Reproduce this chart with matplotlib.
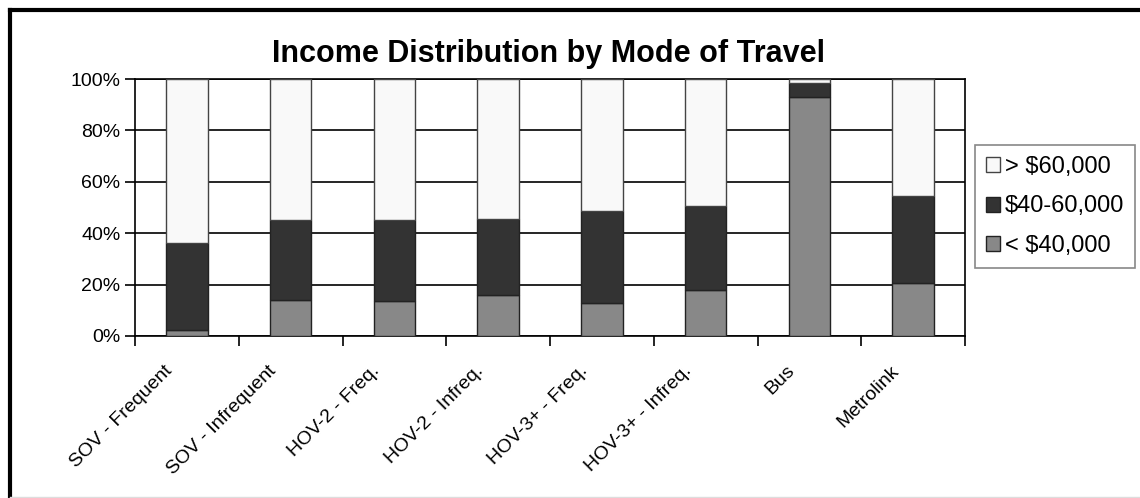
import matplotlib.pyplot as plt
import matplotlib.transforms as mtransforms
from matplotlib.lines import Line2D
import numpy as np

plt.rcParams["font.family"] = ["Liberation Sans", "DejaVu Sans"]

modes = ["SOV - Frequent", "SOV - Infrequent", "HOV-2 - Freq.", "HOV-2 - Infreq.",
         "HOV-3+ - Freq.", "HOV-3+ - Infreq.", "Bus", "Metrolink"]
under_40k = [2.5, 14, 13.5, 16, 13, 18, 93, 20.5]
from_40_to_60k = [33.5, 31, 31.5, 29.5, 35.5, 32.5, 5.3, 34]
over_60k = [64, 55, 55, 54.5, 51.5, 49.5, 1.7, 45.5]

fig = plt.figure(figsize=(11.4, 4.98), dpi=100)
ax = fig.add_axes([135 / 1140, 162 / 498, 830 / 1140, 257 / 498])

x = np.arange(len(modes))
w = 0.4
low = np.array(under_40k)
mid = np.array(from_40_to_60k)
ax.bar(x, under_40k, w, color="#888888", edgecolor="#222222", lw=1, zorder=3,
       label="< $40,000")
ax.bar(x, from_40_to_60k, w, bottom=low, color="#333333", edgecolor="#222222", lw=1,
       zorder=3, label="$40-60,000")
ax.bar(x, over_60k, w, bottom=low + mid, color="#f9f9f9", edgecolor="#444444", lw=1,
       zorder=3, label="> $60,000")

ax.set_xlim(-0.5, len(modes) - 0.5)
ax.set_ylim(0, 100)
ax.set_yticks(range(0, 101, 20))
ax.set_yticklabels([f"{v}%" for v in range(0, 101, 20)], fontsize=14)
ax.yaxis.grid(True, color="black", lw=1.2, zorder=0)
ax.set_axisbelow(True)

# category boundaries get the tick marks, names sit under the bar centres
ax.set_xticks(np.arange(-0.5, len(modes), 1.0))
ax.set_xticklabels([])
ax.set_xticks(x, minor=True)
ax.set_xticklabels(modes, minor=True, rotation=45, ha="right", va="top", fontsize=14)
ax.tick_params(axis="x", which="minor", length=0, pad=19)
ax.tick_params(axis="both", which="major", length=7, width=1.2, direction="out")
shift = mtransforms.ScaledTranslation(-0.11, 0, fig.dpi_scale_trans)
for lbl in ax.get_xticklabels(minor=True):
    lbl.set_transform(lbl.get_transform() + shift)

for s in ax.spines.values():
    s.set_linewidth(1.2)
    s.set_color("black")

fig.text(548 / 1140, 1 - 62 / 498, "Income Distribution by Mode of Travel",
         ha="center", va="baseline", fontsize=22, fontweight="bold")

handles, labels = ax.get_legend_handles_labels()
leg = fig.legend(handles[::-1], labels[::-1], loc="upper left",
                 bbox_to_anchor=(975 / 1140, 1 - 145 / 498), fontsize=17,
                 fancybox=False, edgecolor="#888888", framealpha=1,
                 handlelength=0.6, handleheight=0.6, handletextpad=0.2,
                 borderpad=0.45, labelspacing=0.75, borderaxespad=0)
leg.get_frame().set_linewidth(1.2)

# chart frame: heavy top and left edge, faint bottom edge
fig.add_artist(Line2D([10 / 1140, 1], [1 - 10 / 498] * 2, transform=fig.transFigure,
                      color="black", lw=3))
fig.add_artist(Line2D([10 / 1140] * 2, [0, 1 - 10 / 498], transform=fig.transFigure,
                      color="black", lw=3))
fig.add_artist(Line2D([10 / 1140, 1], [1.5 / 498] * 2, transform=fig.transFigure,
                      color="#dddddd", lw=1))

fig.savefig("out.png", dpi=100)
